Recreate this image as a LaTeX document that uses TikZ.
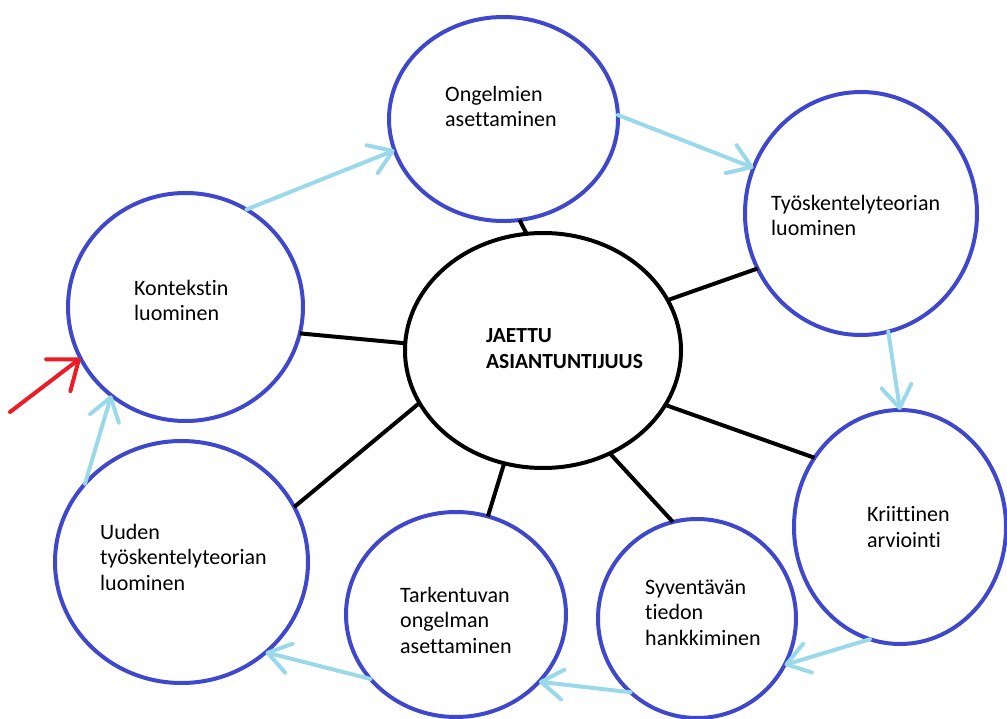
\documentclass[tikz,border=0pt]{standalone}
\usepackage{fontspec}
\setmainfont{Carlito}[Ligatures=NoCommon]
\usetikzlibrary{shapes.geometric,arrows.meta}
\definecolor{bubblue}{HTML}{3F48CC}
\definecolor{flowblue}{HTML}{99D9EA}
\definecolor{startred}{HTML}{ED1C24}
\tikzset{
  bub/.style={ellipse, draw=bubblue, line width=4pt, outer sep=0pt, inner sep=0pt},
  hub/.style={ellipse, draw=black, line width=4pt, outer sep=0pt, inner sep=0pt},
  % multi-line labels: anchored at the baseline of their last line
  lbl/.style={anchor=base west, inner sep=0pt, align=left,
    font=\fontsize{22}{25.5}\selectfont},
  spoke/.style={draw=black, line width=4pt},
  flow/.style={draw=flowblue, line width=4pt, line cap=round,
    -{Straight Barb[length=22pt,width=30pt,round]}},
  start/.style={draw=startred, line width=4pt, line cap=round,
    -{Straight Barb[length=26pt,width=40pt,round]}},
}
\begin{document}
\begin{tikzpicture}[x=1pt,y=-1pt]
\useasboundingbox (0,0) rectangle (1007,719);

% bubbles
\node[bub, minimum width=229pt, minimum height=204pt] (ong) at (503.5,119) {};
\node[bub, minimum width=232pt, minimum height=243pt] (tyo) at (861,213.5) {};
\node[bub, minimum width=235pt, minimum height=228pt] (kon) at (185.5,307) {};
\node[hub, minimum width=276pt, minimum height=235pt] (jae) at (543,350.5) {};
\node[bub, minimum width=212pt, minimum height=234pt] (kri) at (900,527) {};
\node[bub, minimum width=253pt, minimum height=242pt] (uud) at (181.5,562) {};
\node[bub, minimum width=220pt, minimum height=205pt] (tar) at (456,614.5) {};
\node[bub, minimum width=198pt, minimum height=199pt] (syv) at (697,618.5) {};

% labels
\node[lbl] (ong-t) at (445,127) {Ongelmien\\asettaminen};
\node[lbl] (tyo-t) at (771,236) {Työskentelyteorian\\luominen};
\node[lbl] (kon-t) at (134,321) {Kontekstin\\luominen};
\node[lbl, font=\fontsize{21.5}{25.5}\selectfont\bfseries] (jae-t) at (486,368) {JAETTU\\ASIANTUNTIJUUS};
\node[lbl] (kri-t) at (867,547) {Kriittinen\\arviointi};
\node[lbl] (uud-t) at (100,590) {Uuden\\työskentelyteorian\\luominen};
\node[lbl] (tar-t) at (400,653) {Tarkentuvan\\ongelman\\asettaminen};
\node[lbl] (syv-t) at (645,645) {Syventävän\\tiedon\\hankkiminen};

% spokes from the hub
\draw[spoke] (jae.98.7) -- (ong.279.7);
\draw[spoke] (jae.22.3) -- (tyo.208.8);
\draw[spoke] (jae.177.5) -- (kon.347.2);
\draw[spoke] (jae.203.5) -- (uud.26.8);
\draw[spoke] (jae.251.9) -- (tar.72.4);
\draw[spoke] (jae.303.7) -- (syv.104.9);
\draw[spoke] (jae.336.6) -- (kri.141.5);

% cycle arrows
\draw[flow] (kon.58.2) -- (ong.196);
\draw[flow] (ong.2.4) -- (tyo.157.4);
\draw[flow] (tyo.283.1) -- (kri.90.5);
\draw[flow] (kri.255.4) -- (syv.332.7);
\draw[flow] (syv.228.9) -- (tar.321.3);
\draw[flow] (tar.217.6) -- (uud.313);
\draw[flow] (uud.141.9) -- (kon.230.2);

% entry arrow
\coordinate (entry) at (10,412);
\draw[start] (entry) -- (kon.206.1);
\end{tikzpicture}
\end{document}
